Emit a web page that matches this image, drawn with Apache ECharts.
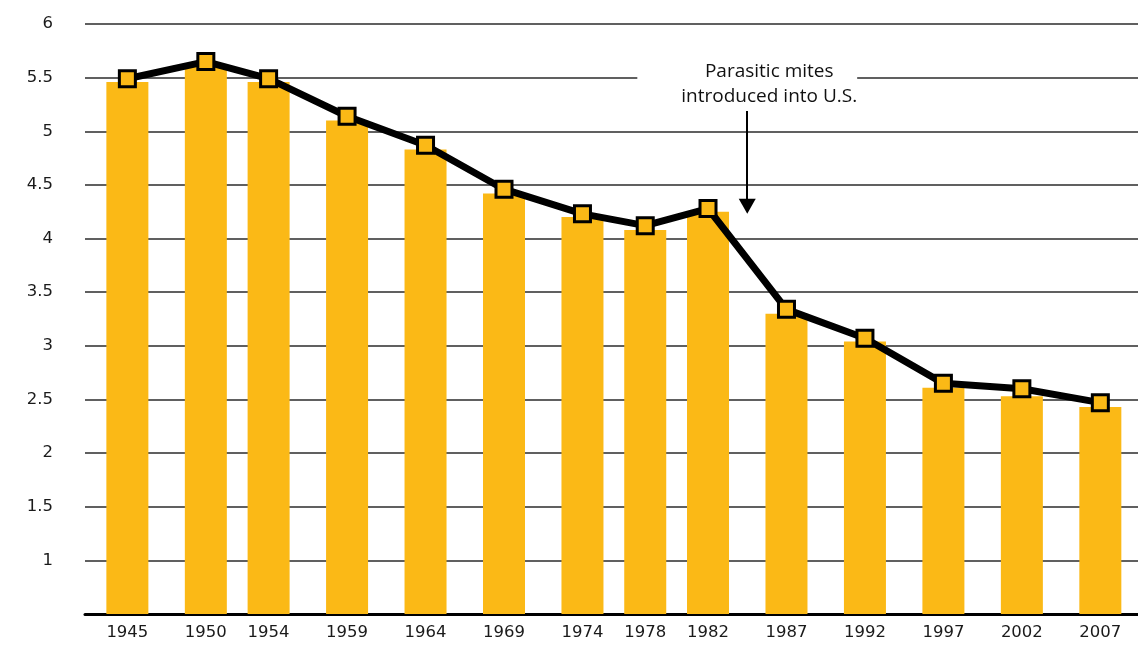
<!DOCTYPE html>
<html>
<head>
<meta charset="utf-8">
<script src="https://cdn.jsdelivr.net/npm/echarts@6/dist/echarts.min.js"></script>
<style>
  html, body { margin: 0; padding: 0; background: #fff; }
  #box { width: 1138px; height: 646px; }
</style>
</head>
<body>
<div id="box"></div>
<script>
// 年份（x轴按真实年份间距排布）
var years = [1945, 1950, 1954, 1959, 1964, 1969, 1974, 1978, 1982, 1987, 1992, 1997, 2002, 2007];
// 柱子高度
var barValues = [5.46, 5.61, 5.46, 5.10, 4.83, 4.42, 4.20, 4.08, 4.25, 3.30, 3.04, 2.61, 2.53, 2.43];
// 折线点（比柱子略高一点）
var lineValues = [5.49, 5.65, 5.49, 5.14, 4.87, 4.46, 4.23, 4.12, 4.28, 3.34, 3.07, 2.65, 2.60, 2.47];
// y轴刻度
var yTicks = [1, 1.5, 2, 2.5, 3, 3.5, 4, 4.5, 5, 5.5, 6];
// 注释
var noteText = 'Parasitic mites\nintroduced into U.S.';
var noteYear = 1984.5;
var noteFrom = 5.19, noteTo = 4.30;

var chart = echarts.init(document.getElementById('box'));

function pairs(vals) {
	return years.map(function (y, i) { return [y, vals[i]]; });
}

var option = {
	animation: false,
	backgroundColor: '#fff',
	grid: { left: 85, right: 0, top: 24, bottom: 32 },
	xAxis: {
		type: 'value',
		min: 1942.3,
		max: 2009.4,
		splitLine: { show: false },
		axisTick: { show: false },
		axisLine: { show: true, lineStyle: { color: '#000', width: 3 } },
		axisLabel: {
			customValues: years,
			formatter: function (v) { return String(v); },
			color: '#1a1a1a',
			fontFamily: 'DejaVu Sans',
			fontSize: 16.5,
			margin: 10
		}
	},
	yAxis: {
		type: 'value',
		min: 0.5,
		max: 6,
		interval: 0.5,
		axisLine: { show: false },
		axisTick: { show: false },
		splitLine: { lineStyle: { color: '#2b2b2b', width: 1.5 } },
		axisLabel: {
			color: '#1a1a1a',
			fontFamily: 'DejaVu Sans',
			fontSize: 16.5,
			margin: 32,
			formatter: function (v) {
				return yTicks.indexOf(v) >= 0 ? String(v) : '';
			}
		}
	},
	series: [
		{
			type: 'bar',
			data: pairs(barValues),
			barWidth: 42,
			itemStyle: { color: '#FBB916' },
			z: 2
		},
		{
			type: 'line',
			data: pairs(lineValues),
			symbol: 'rect',
			symbolSize: 16,
			lineStyle: { color: '#000', width: 7 },
			itemStyle: { color: '#FBB916', borderColor: '#000', borderWidth: 3 },
			z: 3,
			markLine: {
				silent: true,
				symbol: ['none', 'triangle'],
				symbolSize: [17, 15],
				lineStyle: { color: '#000', width: 2, type: 'solid' },
				label: {
					show: true,
					position: 'start',
					formatter: noteText,
					fontFamily: 'Open Sans',
					fontSize: 19,
					lineHeight: 25,
					color: '#111',
					backgroundColor: '#fff',
					padding: [0, 0, 0, 44],
					distance: 2
				},
				data: [[
					{ coord: [noteYear, noteFrom] },
					{ coord: [noteYear, noteTo] }
				]]
			}
		}
	]
};
chart.setOption(option);
</script>
</body>
</html>
